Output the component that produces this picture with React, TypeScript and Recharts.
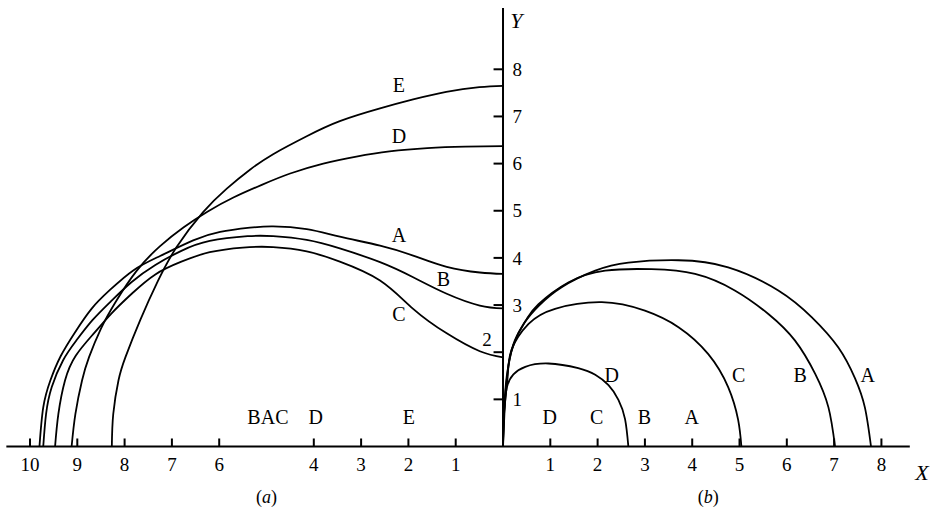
import React from 'react'
import {
  ComposedChart,
  Line,
  XAxis,
  YAxis,
  ReferenceLine,
  ReferenceDot,
} from 'recharts'

type Pt = [number, number]

// (a) left half: x runs leftwards from the Y axis, axis labels show |x|
const leftA: Pt[] = [
  [-9.8, 0], [-9.72, 0.83], [-9.57, 1.4], [-9.35, 1.92], [-9.05, 2.42],
  [-8.7, 2.92], [-8.31, 3.32], [-7.81, 3.74], [-7.25, 4.04], [-6.55, 4.37],
  [-5.98, 4.55], [-5.35, 4.64], [-4.86, 4.67], [-4.15, 4.61], [-3.45, 4.45],
  [-2.6, 4.26], [-1.9, 4.05], [-1.19, 3.81], [-0.49, 3.69], [0, 3.66],
]
const leftB: Pt[] = [
  [-9.72, 0], [-9.66, 0.69], [-9.54, 1.26], [-9.3, 1.83], [-9.02, 2.25],
  [-8.68, 2.68], [-8.29, 3.08], [-7.85, 3.49], [-7.35, 3.85], [-6.8, 4.15],
  [-6.2, 4.36], [-5.4, 4.46], [-4.86, 4.46], [-4.15, 4.38], [-3.45, 4.2],
  [-2.6, 3.91], [-1.9, 3.59], [-1.19, 3.24], [-0.49, 2.99], [0, 2.93],
]
const leftC: Pt[] = [
  [-9.47, 0], [-9.4, 0.69], [-9.26, 1.4], [-9.03, 1.93], [-8.65, 2.4],
  [-8.28, 2.82], [-7.85, 3.24], [-7.35, 3.65], [-6.8, 3.92], [-6.2, 4.12],
  [-5.5, 4.22], [-4.86, 4.23], [-4.15, 4.14], [-3.45, 3.92], [-2.6, 3.52],
  [-1.9, 2.92], [-1.19, 2.4], [-0.49, 2.02], [0, 1.89],
]
const leftD: Pt[] = [
  [-9.12, 0], [-9.04, 0.69], [-8.9, 1.4], [-8.75, 1.9], [-8.5, 2.5],
  [-8.2, 3.05], [-7.75, 3.72], [-7.25, 4.25], [-6.75, 4.65], [-6.25, 4.98],
  [-5.7, 5.28], [-5.1, 5.55], [-4.5, 5.79], [-3.8, 6.0], [-3.1, 6.15],
  [-2.4, 6.26], [-1.6, 6.33], [-0.8, 6.36], [0, 6.37],
]
const leftE: Pt[] = [
  [-8.27, 0], [-8.24, 0.69], [-8.13, 1.4], [-7.98, 1.9], [-7.67, 2.68],
  [-7.3, 3.5], [-6.9, 4.23], [-6.34, 4.97], [-5.84, 5.47], [-5.35, 5.87],
  [-4.86, 6.2], [-4.15, 6.58], [-3.45, 6.9], [-2.6, 7.17], [-1.9, 7.36],
  [-1.2, 7.52], [-0.5, 7.62], [0, 7.65],
]

// (b) right half
const rightA: Pt[] = [
  [0, 0], [0.02, 0.7], [0.08, 1.5], [0.22, 2.15], [0.45, 2.62], [0.75, 2.98],
  [1.24, 3.38], [1.95, 3.73], [2.65, 3.9], [3.71, 3.95], [4.76, 3.8],
  [5.82, 3.31], [6.53, 2.74], [7.09, 2.1], [7.44, 1.45], [7.65, 0.83], [7.78, 0],
]
const rightB: Pt[] = [
  [0, 0], [0.02, 0.7], [0.1, 1.6], [0.25, 2.25], [0.5, 2.7], [0.75, 3.02],
  [1.38, 3.48], [2.16, 3.73], [3.14, 3.76], [4.06, 3.66], [4.9, 3.31],
  [5.61, 2.81], [6.17, 2.25], [6.6, 1.54], [6.88, 0.83], [7.02, 0],
]
const rightC: Pt[] = [
  [0, 0], [0.03, 0.8], [0.1, 1.5], [0.18, 2.05], [0.54, 2.6], [1.1, 2.92],
  [2.09, 3.06], [3.0, 2.88], [3.71, 2.53], [4.34, 1.96], [4.76, 1.26],
  [4.97, 0.57], [5.04, 0],
]
const rightD: Pt[] = [
  [0, 0], [0.03, 0.7], [0.08, 1.25], [0.22, 1.53], [0.47, 1.69], [0.96, 1.76],
  [1.59, 1.66], [1.95, 1.52], [2.23, 1.3], [2.44, 0.99], [2.58, 0.58], [2.65, 0],
]

const xTicks = [-10, -9, -8, -7, -6, -4, -3, -2, -1, 1, 2, 3, 4, 5, 6, 7, 8]
const yTicks = [1, 2, 3, 4, 5, 6, 7, 8]

// curve letters, in data units
const curveTags = [
  { text: 'E', x: -2.2, y: 7.67 },
  { text: 'D', x: -2.2, y: 6.59 },
  { text: 'A', x: -2.2, y: 4.48 },
  { text: 'B', x: -1.26, y: 3.55 },
  { text: 'C', x: -2.2, y: 2.8 },
  { text: 'BAC', x: -4.97, y: 0.62 },
  { text: 'D', x: -3.96, y: 0.62 },
  { text: 'E', x: -1.99, y: 0.62 },
  { text: 'D', x: 2.3, y: 1.51 },
  { text: 'C', x: 4.98, y: 1.51 },
  { text: 'B', x: 6.28, y: 1.51 },
  { text: 'A', x: 7.71, y: 1.51 },
  { text: 'D', x: 0.99, y: 0.63 },
  { text: 'C', x: 1.98, y: 0.63 },
  { text: 'B', x: 2.99, y: 0.63 },
  { text: 'A', x: 3.99, y: 0.63 },
]

const FONT = '"Liberation Serif", "Times New Roman", serif'
const X_MIN = -10.5
const X_MAX = 8.6
const Y_MAX = 9.3

const rows = (pts: Pt[]) => pts.map(([x, y]) => ({ x, y }))
const allCurves = [leftA, leftB, leftC, leftD, leftE, rightA, rightB, rightC, rightD]

const textShape = (content: React.ReactNode, size = 20, italic = false) =>
  (p: any) => (
    <text
      x={p.cx}
      y={p.cy}
      dy="0.35em"
      textAnchor="middle"
      fontFamily={FONT}
      fontSize={size}
      fontStyle={italic ? 'italic' : 'normal'}
      fill="#000"
    >
      {content}
    </text>
  )

const XTick = (props: any) => {
  const { x, y, payload } = props
  return (
    <text x={x} y={y + 17.5} dy="0.35em" textAnchor="middle" fontFamily={FONT} fontSize={19} fill="#000">
      {Math.abs(payload.value)}
    </text>
  )
}

export default function App() {
  return (
    <div style={{ position: 'absolute', left: 0, top: 0, background: '#fff' }}>
      <ComposedChart
        width={935}
        height={512}
        margin={{ top: 8, right: 25.2, bottom: 25.5, left: 6.35 }}
      >
        <XAxis
          type="number"
          dataKey="x"
          domain={[X_MIN, X_MAX]}
          ticks={xTicks}
          tick={<XTick />}
          tickLine={false}
          tickSize={0}
          tickMargin={0}
          axisLine={{ stroke: '#000', strokeWidth: 2 }}
          height={40}
          allowDataOverflow
        />
        <YAxis type="number" dataKey="y" domain={[0, Y_MAX]} hide allowDataOverflow />

        {/* Y axis drawn at x = 0 */}
        <ReferenceLine segment={[{ x: 0, y: 0 }, { x: 0, y: Y_MAX }]} stroke="#000" strokeWidth={2} />
        {yTicks.map((t) => (
          <ReferenceLine
            key={'yt' + t}
            segment={[{ x: -0.2, y: t }, { x: 0, y: t }]}
            stroke="#000"
            strokeWidth={2}
          />
        ))}
        {xTicks.map((t) => (
          <ReferenceLine
            key={'xt' + t}
            segment={[{ x: t, y: 0 }, { x: t, y: 0.17 }]}
            stroke="#000"
            strokeWidth={2}
          />
        ))}

        {allCurves.map((pts, i) => (
          <Line
            key={'c' + i}
            data={rows(pts)}
            dataKey="y"
            type="natural"
            stroke="#000"
            strokeWidth={1.8}
            dot={false}
            activeDot={false}
            isAnimationActive={false}
          />
        ))}

        {yTicks.map((t) => (
          <ReferenceDot
            key={'yl' + t}
            x={t === 2 ? -0.34 : 0.3}
            y={t === 2 ? 2.28 : t}
            r={0}
            ifOverflow="visible"
            shape={textShape(String(t), 19)}
          />
        ))}

        {curveTags.map((c, i) => (
          <ReferenceDot
            key={'tag' + i}
            x={c.x}
            y={c.y}
            r={0}
            ifOverflow="visible"
            shape={textShape(c.text, 20)}
          />
        ))}

        <ReferenceDot x={0.28} y={9.04} r={0} ifOverflow="visible" shape={textShape('Y', 22, true)} />
        <ReferenceDot x={8.86} y={-0.54} r={0} ifOverflow="visible" shape={textShape('X', 22, true)} />
        <ReferenceDot
          x={-5.0}
          y={-1.06}
          r={0}
          ifOverflow="visible"
          shape={textShape(<>(<tspan fontStyle="italic">a</tspan>)</>, 18)}
        />
        <ReferenceDot
          x={4.34}
          y={-1.06}
          r={0}
          ifOverflow="visible"
          shape={textShape(<>(<tspan fontStyle="italic">b</tspan>)</>, 18)}
        />
      </ComposedChart>
    </div>
  )
}
